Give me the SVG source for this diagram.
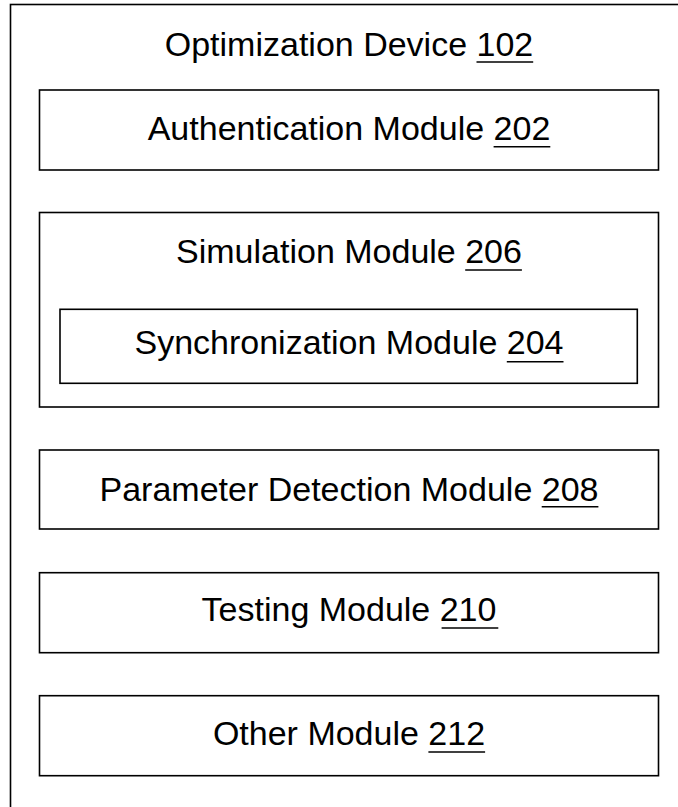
<svg xmlns="http://www.w3.org/2000/svg" width="678" height="807" viewBox="0 0 678 807">
<style>
.box{fill:#fff;stroke:#000;stroke-width:1.6}
.lbl{font-family:"Liberation Sans",Arial,sans-serif;font-size:34px;fill:#000;text-anchor:middle}
.ul{stroke:#000;stroke-width:1.4}
</style>
<rect x="0" y="0" width="678" height="807" fill="#fff"/>
<g id="optimization-device-102">
<rect class="box" x="10.5" y="4.5" width="720" height="860"/>
<text class="lbl" x="349" y="56">Optimization Device 102</text>
<line class="ul" x1="476.5" y1="62" x2="533.2" y2="62"/>
</g>
<g id="authentication-module-202">
<rect class="box" x="39.5" y="90" width="619" height="80"/>
<text class="lbl" x="349" y="140">Authentication Module 202</text>
<line class="ul" x1="493.6" y1="146.7" x2="550.3" y2="146.7"/>
</g>
<g id="simulation-module-206">
<rect class="box" x="39.5" y="212.5" width="619" height="194.5"/>
<text class="lbl" x="349" y="262.7">Simulation Module 206</text>
<line class="ul" x1="465.2" y1="270" x2="521.9" y2="270"/>
</g>
<g id="synchronization-module-204">
<rect class="box" x="60" y="309.3" width="577.3" height="74"/>
<text class="lbl" x="349" y="354">Synchronization Module 204</text>
<line class="ul" x1="506.8" y1="361.7" x2="563.5" y2="361.7"/>
</g>
<g id="parameter-detection-module-208">
<rect class="box" x="39.5" y="450" width="619" height="79"/>
<text class="lbl" x="349" y="500.7">Parameter Detection Module 208</text>
<line class="ul" x1="541.7" y1="506.7" x2="598.4" y2="506.7"/>
</g>
<g id="testing-module-210">
<rect class="box" x="39.5" y="572.7" width="619" height="80"/>
<text class="lbl" x="349" y="621">Testing Module 210</text>
<line class="ul" x1="441.6" y1="628" x2="498.3" y2="628"/>
</g>
<g id="other-module-212">
<rect class="box" x="39.5" y="695.7" width="619" height="80"/>
<text class="lbl" x="349" y="745">Other Module 212</text>
<line class="ul" x1="428.4" y1="752" x2="485.1" y2="752"/>
</g>
<g id="connectors"></g>
</svg>
